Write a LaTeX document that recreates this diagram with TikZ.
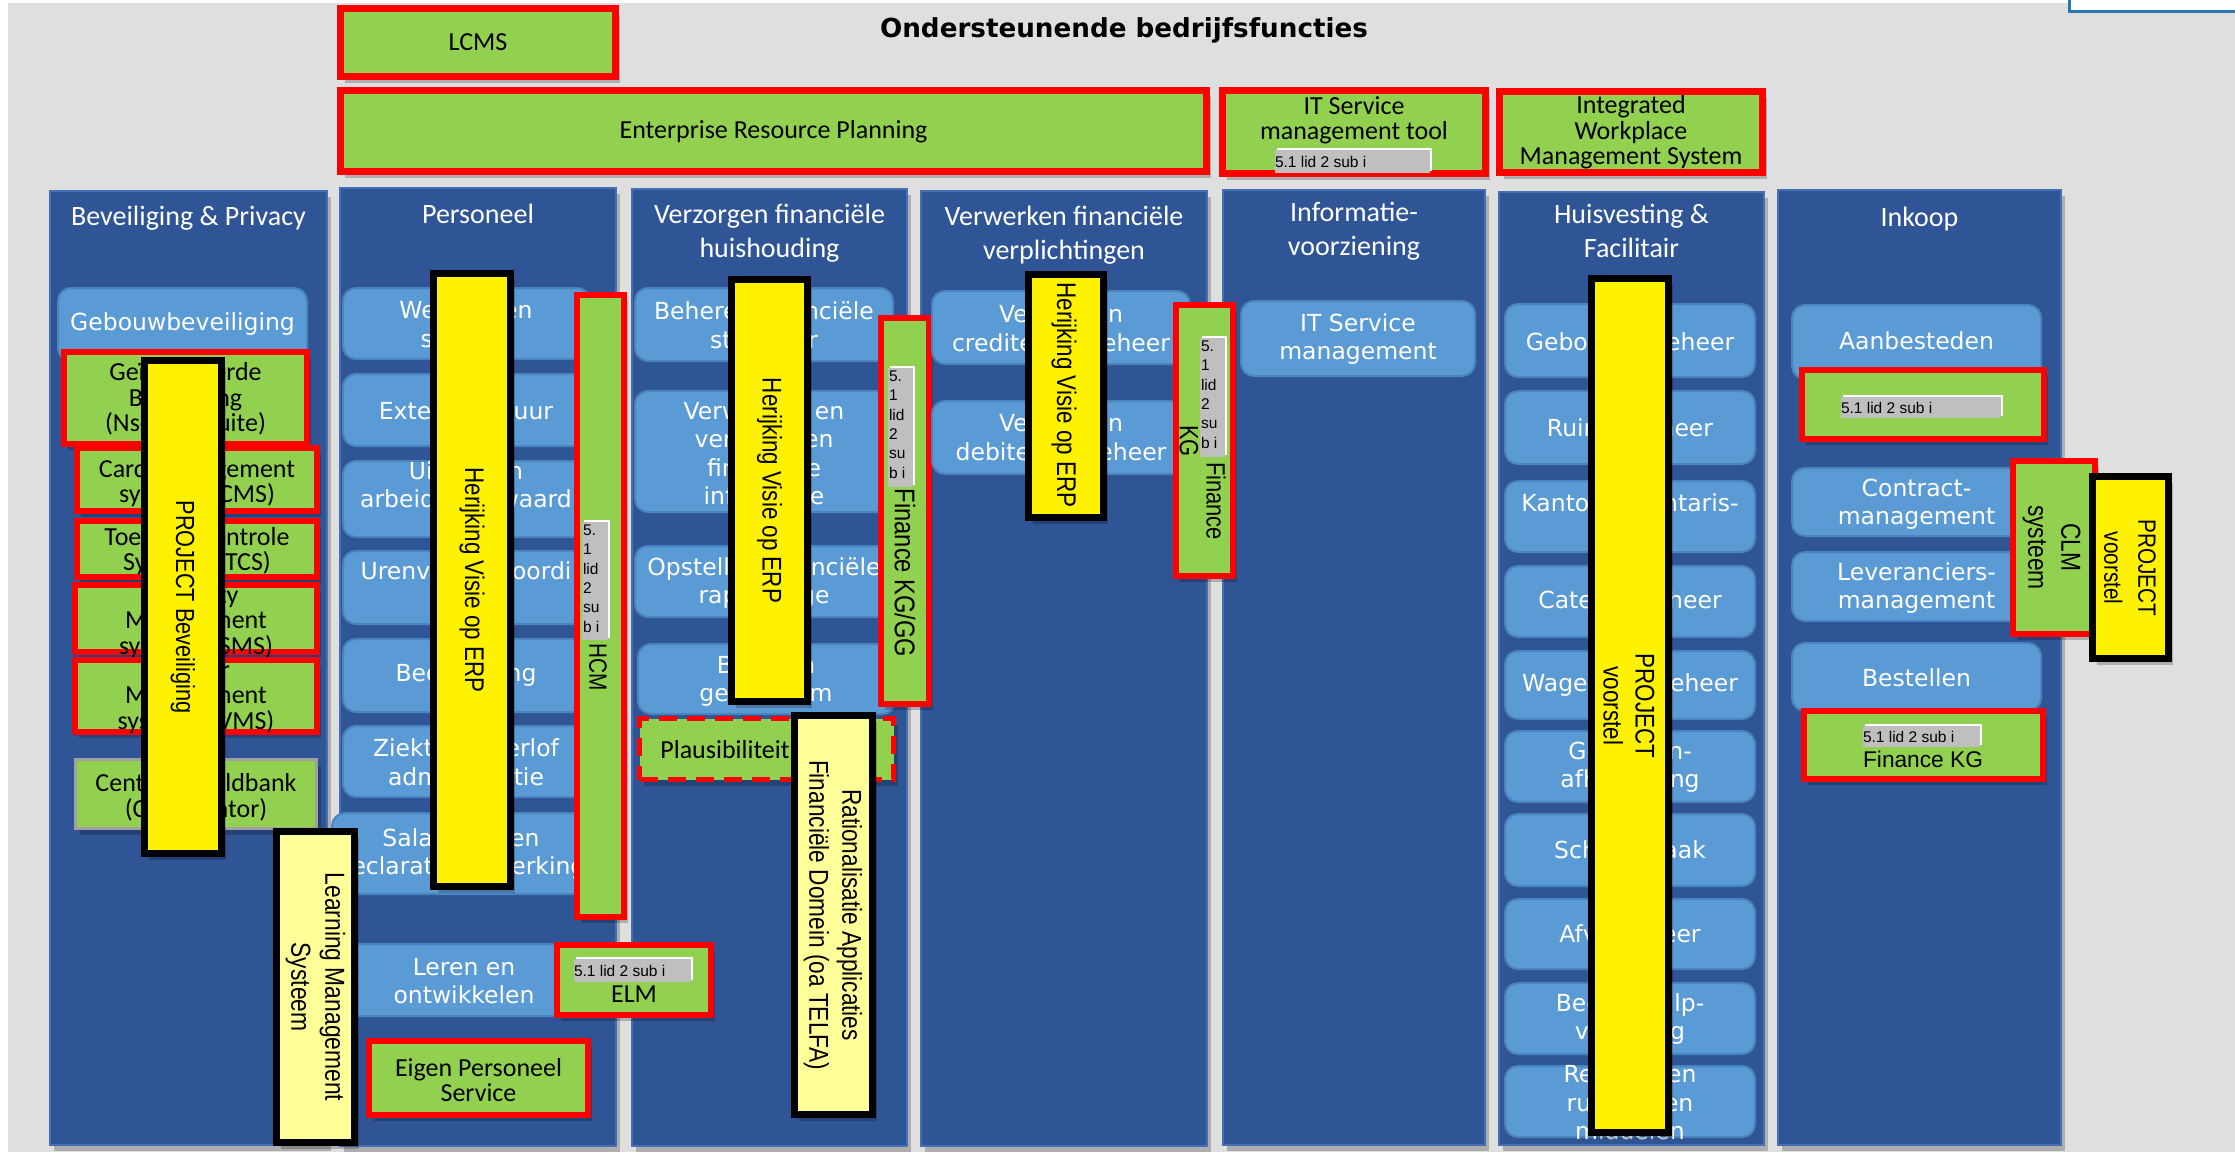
\documentclass[tikz,border=0pt]{standalone}
\usepackage{fontspec}
\setmainfont{DejaVu Sans}
\newfontfamily\cfont{Carlito}
\newfontfamily\afont{Liberation Sans}
\newfontfamily\rfont{Liberation Sans}[FakeStretch=0.83]
\usetikzlibrary{shadows}
\definecolor{bggray}{HTML}{DFDFDF}
\definecolor{colblue}{HTML}{2F5597}
\definecolor{coledge}{HTML}{4670B4}
\definecolor{lblue}{HTML}{5B9BD5}
\definecolor{lbedge}{HTML}{4A84BD}
\definecolor{lgreen}{HTML}{92D050}
\definecolor{pyellow}{HTML}{FFFF99}
\definecolor{lgray}{HTML}{BFBFBF}
\definecolor{topblue}{HTML}{2E75B6}
\definecolor{meldgray}{HTML}{A0A0A0}
\tikzset{
 shd/.style={drop shadow={shadow xshift=4pt, shadow yshift=-6pt, opacity=0.22, fill=black}},
 colbox/.style={draw=coledge, fill=colblue, inner sep=0pt, shd},
 lbbox/.style={draw=lbedge, fill=lblue, rounded corners=13pt, inner sep=0pt},
 gbox/.style={draw=red, fill=lgreen, inner sep=0pt, shd},
 gdbox/.style={draw=red, fill=lgreen, inner sep=0pt, dash pattern=on 18pt off 10pt, shd},
 gmbox/.style={draw=meldgray, fill=lgreen, inner sep=0pt, shd},
 ybox/.style={draw=black, fill=yellow, inner sep=0pt, shd},
 pybox/.style={draw=black, fill=pyellow, inner sep=0pt, shd},
 cornerbox/.style={draw=topblue, fill=white, inner sep=0pt},
 labelbox/.style={fill=lgray, inner sep=0pt},
 wt/.style={text=white, font=\fontsize{23.5}{28.5}\selectfont, align=center, inner sep=0pt},
 hd/.style={text=white, font=\cfont\fontsize{28}{34}\selectfont, align=center, inner sep=0pt},
 bk/.style={text=black, font=\cfont\fontsize{26}{25.5}\selectfont, align=center, inner sep=0pt},
 rt/.style={text=black, font=\rfont\fontsize{27}{33}\selectfont, align=center, inner sep=0pt, rotate=-90},
 lt/.style={text=black, font=\afont\fontsize{15.5}{19.3}\selectfont, align=left, inner sep=0pt},
}
\newcommand\bx[7]{\node[#1, line width=#7pt, minimum width={(#5)-(#3)-(#7)}, minimum height={(#6)-(#4)-(#7)}] (#2) at ({((#3)+(#5))/2},{((#4)+(#6))/2}) {};}
\newcommand\lbl[5]{\fill[white] ({(#2)+2},{(#3)-2}) rectangle ({(#4)+2},{(#5)-2}); \node[labelbox, minimum width={(#4)-(#2)}, minimum height={(#5)-(#3)}] (#1) at ({((#2)+(#4))/2},{((#3)+(#5))/2}) {};}
\begin{document}
\begin{tikzpicture}[x=1pt,y=-1pt]
\useasboundingbox (0,0) rectangle (2235,1152);
\fill[white] (0,0) rectangle (2235,1152);
\fill[bggray] (8,3) rectangle (2235,1152);
\bx{cornerbox}{tr}{2068}{-14}{2250}{13}{3}
\node[font=\bfseries\fontsize{26.2}{30}\selectfont, inner sep=0pt] (title) at (1124,30) {Ondersteunende bedrijfsfuncties};

% top systems
\bx{gbox}{lcms}{337}{5}{619}{80}{7}
\node[bk] (lcmst) at (lcms) {LCMS};
\bx{gbox}{erp}{337}{87}{1210}{175}{7}
\node[bk] (erpt) at (773.5,132) {Enterprise Resource Planning};
\bx{gbox}{itsm}{1219}{87}{1489}{177}{7}
\node[bk] (itsmt) at (1354,120.5) {IT Service\\management tool};
\lbl{itsml}{1275}{150}{1430}{173}
\node[lt, anchor=west] (itsmlt) at (itsml.west) {5.1 lid 2 sub i};
\bx{gbox}{iwms}{1496}{88}{1766}{176}{7}
\node[bk] (iwmst) at (1631,132.5) {Integrated\\Workplace\\Management System};

% columns
\bx{colbox}{c1}{49}{190}{328}{1146}{2}
\bx{colbox}{c2}{339}{187}{617}{1147}{2}
\bx{colbox}{c3}{631}{188}{908}{1147}{2}
\bx{colbox}{c4}{920}{190}{1208}{1147}{2}
\bx{colbox}{c5}{1222}{189}{1486}{1146}{2}
\bx{colbox}{c6}{1498}{191}{1765}{1146}{2}
\bx{colbox}{c7}{1777}{189}{2062}{1146}{2}
\node[hd] (c1h) at (188.5,218) {Beveiliging \& Privacy};
\node[hd] (c2h) at (478,214) {Personeel};
\node[hd] (c3h) at (769.5,233) {Verzorgen financiële\\huishouding};
\node[hd] (c4h) at (1064,235) {Verwerken financiële\\verplichtingen};
\node[hd] (c5h) at (1354,231) {Informatie-\\voorziening};
\node[hd] (c6h) at (1631.5,231) {Huisvesting \&\\Facilitair};
\node[hd] (c7h) at (1919.5,219) {Inkoop};

% column 1
\bx{lbbox}{gb}{57}{287}{308}{362}{2}
\node[wt] (gbt) at (gb) {Gebouwbeveiliging};
\bx{gbox}{gib}{61}{349}{310}{447}{6}
\node[bk] (gibt) at (185.5,399) {Geïntegreerde\\Beveiliging\\(Nsecure Suite)};
\bx{gbox}{cms}{74}{445}{320}{514}{6}
\node[bk] (cmst) at (197,483) {Card Management\\systeem (CMS)};
\bx{gbox}{tcs}{74}{518}{320}{580}{6}
\node[bk] (tcst) at (197,551) {Toegangscontrole\\Systeem (TCS)};
\bx{gbox}{sms}{72}{582}{320}{655}{6}
\node[bk] (smst) at (196,622) {Security\\Management\\systeem (SMS)};
\bx{gbox}{vms}{72}{657}{320}{735}{6}
\node[bk] (vmst) at (196,697) {Visitor\\Management\\systeem (VMS)};
\bx{gmbox}{cmb}{74}{758}{318}{830}{3}
\node[bk] (cmbt) at (196,797.5) {Centrale Meldbank\\(Coördinator)};
\bx{ybox}{pb}{141}{357}{225}{857}{7}
\node[rt, font=\rfont\fontsize{26.2}{33}\selectfont] (pbt) at (pb) {PROJECT Beveiliging};

% column 2
\bx{lbbox}{ws}{342}{287}{591}{360}{2}
\node[wt] (wst) at (466,324) {Werving en\\selectie};
\bx{lbbox}{ei}{342}{373}{591}{447}{2}
\node[wt] (eit) at (466,411) {Externe inhuur};
\bx{lbbox}{ua}{342}{460}{591}{538}{2}
\node[wt] (uat) at (466,499) {Uitvoeren\\arbeidsvoorwaard\\en};
\bx{lbbox}{uv}{342}{550}{591}{625}{2}
\node[wt] (uvt) at (466,587) {Urenverantwoordi\\ng};
\bx{lbbox}{bo}{342}{638}{591}{713}{2}
\node[wt] (bot) at (466,675.5) {Beoordeling};
\bx{lbbox}{zv}{342}{725}{591}{798}{2}
\node[wt] (zvt) at (466,762) {Ziekte en verlof\\administratie};
\bx{lbbox}{sd}{331}{812}{591}{895}{2}
\node[wt] (sdt) at (461,854) {Salarissen en\\declaratieverwerking};
\bx{lbbox}{le}{342}{943}{586}{1017}{2}
\node[wt] (let) at (464,981) {Leren en\\ontwikkelen};
\bx{ybox}{hva}{430}{270}{514}{890}{7}
\node[rt] (hvat) at (hva) {Herijking Visie op ERP};
\bx{gbox}{hcm}{574}{292}{627}{920}{6}
\lbl{hcml}{582}{522}{608}{640}
\node[lt, anchor=north west] (hcmlt) at ([xshift=1pt,yshift=-3pt]hcml.north west) {5.\\1\\lid\\2\\su\\b i};
\node[rt, font=\rfont\fontsize{25}{33}\selectfont] (hcmt) at (598,667) {HCM};
\bx{pybox}{lms}{273}{828}{358}{1146}{7}
\node[rt, font=\rfont\fontsize{27.5}{34}\selectfont] (lmst) at (lms) {Learning Management\\Systeem};
\bx{gbox}{elm}{554}{942}{714}{1018}{6}
\lbl{elml}{574}{959}{691}{982}
\node[lt, anchor=west] (elmlt) at (elml.west) {5.1 lid 2 sub i};
\node[bk] (elmt) at (634,994) {ELM};
\bx{gbox}{eps}{366}{1038}{591}{1118}{6}
\node[bk] (epst) at (478.5,1080) {Eigen Personeel\\Service};

% column 3
\bx{lbbox}{bf}{634}{287}{894}{362}{2}
\node[wt] (bft) at (764,325) {Beheren financiële\\structuur};
\bx{lbbox}{vf}{634}{390}{894}{513}{2}
\node[wt] (vft) at (764,453) {Verwerken en\\verstrekken\\financiële\\informatie};
\bx{lbbox}{of}{634}{545}{894}{618}{2}
\node[wt] (oft) at (764,583) {Opstellen financiële\\rapportage};
\bx{lbbox}{bgs}{637}{643}{896}{715}{2}
\node[wt] (bgst) at (766,681) {Beheren\\geldstroom};
\bx{ybox}{hvb}{728}{276}{811}{705}{7}
\node[rt] (hvbt) at (hvb) {Herijking Visie op ERP};
\bx{gbox}{fkg}{878}{315}{932}{707}{6}
\lbl{fkgl}{888}{368}{913}{487}
\node[lt, anchor=north west] (fkglt) at ([xshift=1pt,yshift=-3pt]fkgl.north west) {5.\\1\\lid\\2\\su\\b i};
\node[rt, font=\rfont\fontsize{28.5}{33}\selectfont] (fkgt) at (905,573) {Finance KG/GG};
\bx{gdbox}{pl}{637}{716}{896}{782}{5}
\node[bk] (plt) at (725,750) {Plausibiliteit};
\bx{pybox}{ra}{791}{712}{876}{1118}{7}
\node[rt, font=\rfont\fontsize{27.3}{33}\selectfont] (rat) at (833,915) {Rationalisatie Applicaties\\Financiële Domein (oa TELFA)};

% column 4
\bx{lbbox}{vc}{931}{290}{1191}{365}{2}
\node[wt] (vct) at (1061,328) {Verwerken\\crediteurenbeheer};
\bx{lbbox}{vd}{931}{400}{1191}{475}{2}
\node[wt] (vdt) at (1061,437) {Verwerken\\debiteurenbeheer};
\bx{ybox}{hvc}{1025}{271}{1107}{521}{7}
\node[rt] (hvct) at (1064,395) {Herijking Visie op ERP};
\bx{gbox}{fkk}{1173}{302}{1236}{579}{6}
\lbl{fkkl}{1200}{338}{1225}{457}
\node[lt, anchor=north west] (fkklt) at ([xshift=1pt,yshift=-3pt]fkkl.north west) {5.\\1\\lid\\2\\su\\b i};
\node[rt, font=\rfont\fontsize{26.4}{33}\selectfont] (fkkta) at (1216,501) {Finance};
\node[rt, font=\rfont\fontsize{26.4}{33}\selectfont] (fkktb) at (1189,441) {KG};

% column 5
\bx{lbbox}{its}{1240}{300}{1476}{377}{2}
\node[wt] (itst) at (1358,339) {IT Service\\management};

% column 6
\bx{lbbox}{gbh}{1504}{303}{1756}{378}{2}
\node[wt] (gbht) at (1630,342) {Gebouwenbeheer};
\bx{lbbox}{rb}{1504}{390}{1756}{465}{2}
\node[wt] (rbt) at (1630,428) {Ruimtebeheer};
\bx{lbbox}{kib}{1504}{480}{1756}{553}{2}
\node[wt] (kibt) at (1630,517) {Kantoorinventaris-\\beheer};
\bx{lbbox}{cb}{1504}{565}{1756}{638}{2}
\node[wt] (cbt) at (1630,602) {Cateringbeheer};
\bx{lbbox}{wpb}{1504}{650}{1756}{720}{2}
\node[wt] (wpbt) at (1630,685) {Wagenparkbeheer};
\bx{lbbox}{ga}{1504}{730}{1756}{803}{2}
\node[wt] (gat) at (1630,767) {Goederen-\\afhandeling};
\bx{lbbox}{sm}{1504}{813}{1756}{887}{2}
\node[wt] (smt) at (1630,850) {Schoonmaak};
\bx{lbbox}{ab}{1504}{898}{1756}{970}{2}
\node[wt] (abt) at (1630,934) {Afvalbeheer};
\bx{lbbox}{bhv}{1504}{982}{1756}{1055}{2}
\node[wt] (bhvt) at (1630,1019) {Bedrijfshulp-\\verlening};
\bx{lbbox}{rr}{1504}{1065}{1756}{1138}{2}
\node[wt] (rrt) at (1630,1103) {Reserveren\\ruimtes en\\middelen};
\bx{ybox}{pva}{1588}{275}{1672}{1136}{7}
\node[rt, font=\rfont\fontsize{27}{32}\selectfont] (pvat) at (1629,706) {PROJECT\\voorstel};

% column 7
\bx{lbbox}{aan}{1791}{304}{2042}{380}{2}
\node[wt] (aant) at (1916.5,341) {Aanbesteden};
\bx{gbox}{aanl}{1799}{367}{2047}{442}{6}
\lbl{aanll}{1841}{397}{2001}{418}
\node[lt, anchor=west] (aanllt) at (aanll.west) {5.1 lid 2 sub i};
\bx{lbbox}{cm}{1791}{467}{2042}{537}{2}
\node[wt] (cmt) at (1916.5,504) {Contract-\\management};
\bx{lbbox}{lm}{1791}{551}{2042}{622}{2}
\node[wt] (lmt) at (1916.5,588) {Leveranciers-\\management};
\bx{lbbox}{bes}{1791}{642}{2042}{712}{2}
\node[wt] (best) at (1916.5,678) {Bestellen};
\bx{gbox}{fkb}{1801}{708}{2046}{782}{6}
\lbl{fkbl}{1863}{726}{1980}{747}
\node[lt, anchor=west] (fkblt) at (fkbl.west) {5.1 lid 2 sub i};
\node[text=black, font=\afont\fontsize{22.7}{26}\selectfont, inner sep=0pt] (fkbt) at (1923,759) {Finance KG};
\bx{gbox}{clm}{2010}{458}{2098}{637}{6}
\node[rt, font=\rfont\fontsize{27.5}{33}\selectfont] (clmt) at (2051.5,547.5) {CLM\\systeem};
\bx{ybox}{pvb}{2089}{473}{2172}{662}{7}
\node[rt, font=\rfont\fontsize{25}{34}\selectfont] (pvbt) at (2130,568) {PROJECT\\voorstel};
\end{tikzpicture}
\end{document}
